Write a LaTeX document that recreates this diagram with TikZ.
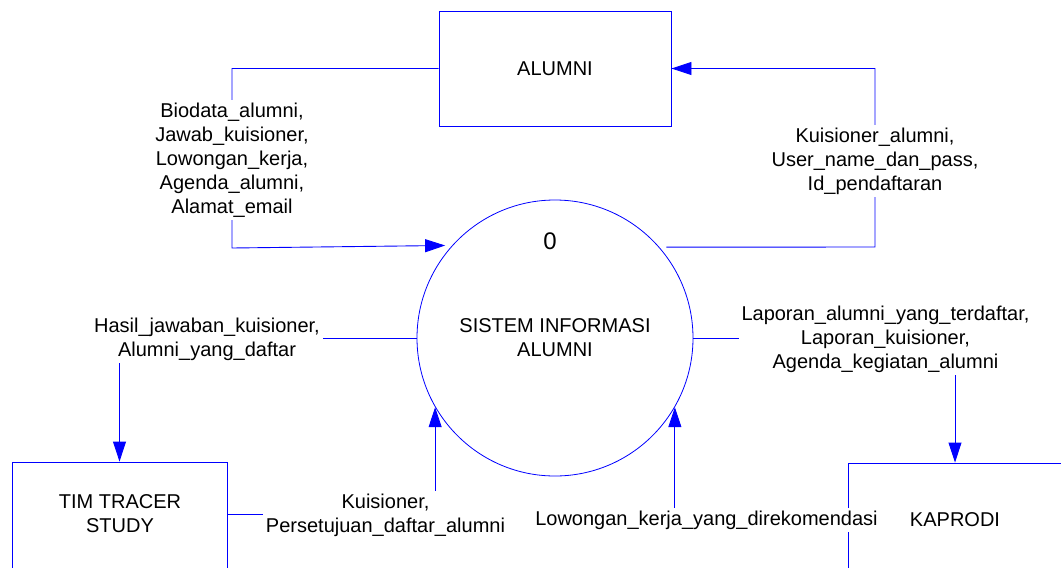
\documentclass[tikz,border=0pt]{standalone}
\usepackage{fontspec}
\setmainfont{Liberation Sans}
\usetikzlibrary{arrows.meta}
\begin{document}
\begin{tikzpicture}[x=1pt,y=-1pt,
  flow/.style={draw=blue, line width=0.9pt},
  arr/.style={flow, -{Triangle[length=20pt,width=13pt]}},
  entity/.style={draw=blue, line width=0.9pt, rectangle, inner sep=0pt},
  proc/.style={draw=blue, line width=0.8pt, circle, minimum size=276pt},
  txt/.style={font=\fontsize{20}{24}\selectfont, align=center, inner sep=0pt},
  lbl/.style={txt, fill=white, inner sep=3pt}
]
\useasboundingbox (0,0) rectangle (1061,568);
\clip (0,0) rectangle (1061,568);

% external entities and the process
\node[entity, txt, minimum width=232pt, minimum height=115pt] (alu) at (555,68.5) {ALUMNI};
\node[proc, txt] (sys) at (555,338) {SISTEM INFORMASI\\ALUMNI};
\node[txt, font=\fontsize{24}{28}\selectfont] (num) at (550,241.5) {0};
\node[entity, minimum width=215pt, minimum height=138pt] (tim) at (119.5,531) {};
\node[txt] (timtext) at (120,514) {TIM TRACER\\STUDY};
\node[entity, minimum width=252pt, minimum height=137pt] (kap) at (974,531.5) {};
\node[txt] (kaptext) at (955,520) {KAPRODI};

% bend points
\coordinate (lbend) at (232,248);
\coordinate (rbend) at (875,247);

% data flows
\draw[arr, shorten >=7pt] (alu.west) -| (lbend) -- (sys.138.74);
\draw[arr, shorten <=7pt] (sys.41.81) -- (rbend) |- (alu.east);
\draw[arr] (sys.west) -| (tim.north);
\draw[arr] (timtext -| tim.east) -| (sys.210.43);
\draw[arr] (sys.east) -| (kaptext |- kap.north);
\draw[arr] (kaptext -| kap.west) -| (sys.330.91);

% flow labels
\node[lbl] (l1) at (232,160) {Biodata\_alumni,\\Jawab\_kuisioner,\\Lowongan\_kerja,\\Agenda\_alumni,\\Alamat\_email};
\node[lbl] (l2) at (875,161) {Kuisioner\_alumni,\\User\_name\_dan\_pass,\\Id\_pendaftaran};
\node[lbl] (l3) at (207,339) {Hasil\_jawaban\_kuisioner,\\Alumni\_yang\_daftar};
\node[lbl] (l4) at (385.5,515) {Kuisioner,\\Persetujuan\_daftar\_alumni};
\node[lbl] (l5) at (885.5,339) {Laporan\_alumni\_yang\_terdaftar,\\Laporan\_kuisioner,\\Agenda\_kegiatan\_alumni};
\node[lbl] (l6) at (706.5,520) {Lowongan\_kerja\_yang\_direkomendasi};
\end{tikzpicture}
\end{document}
